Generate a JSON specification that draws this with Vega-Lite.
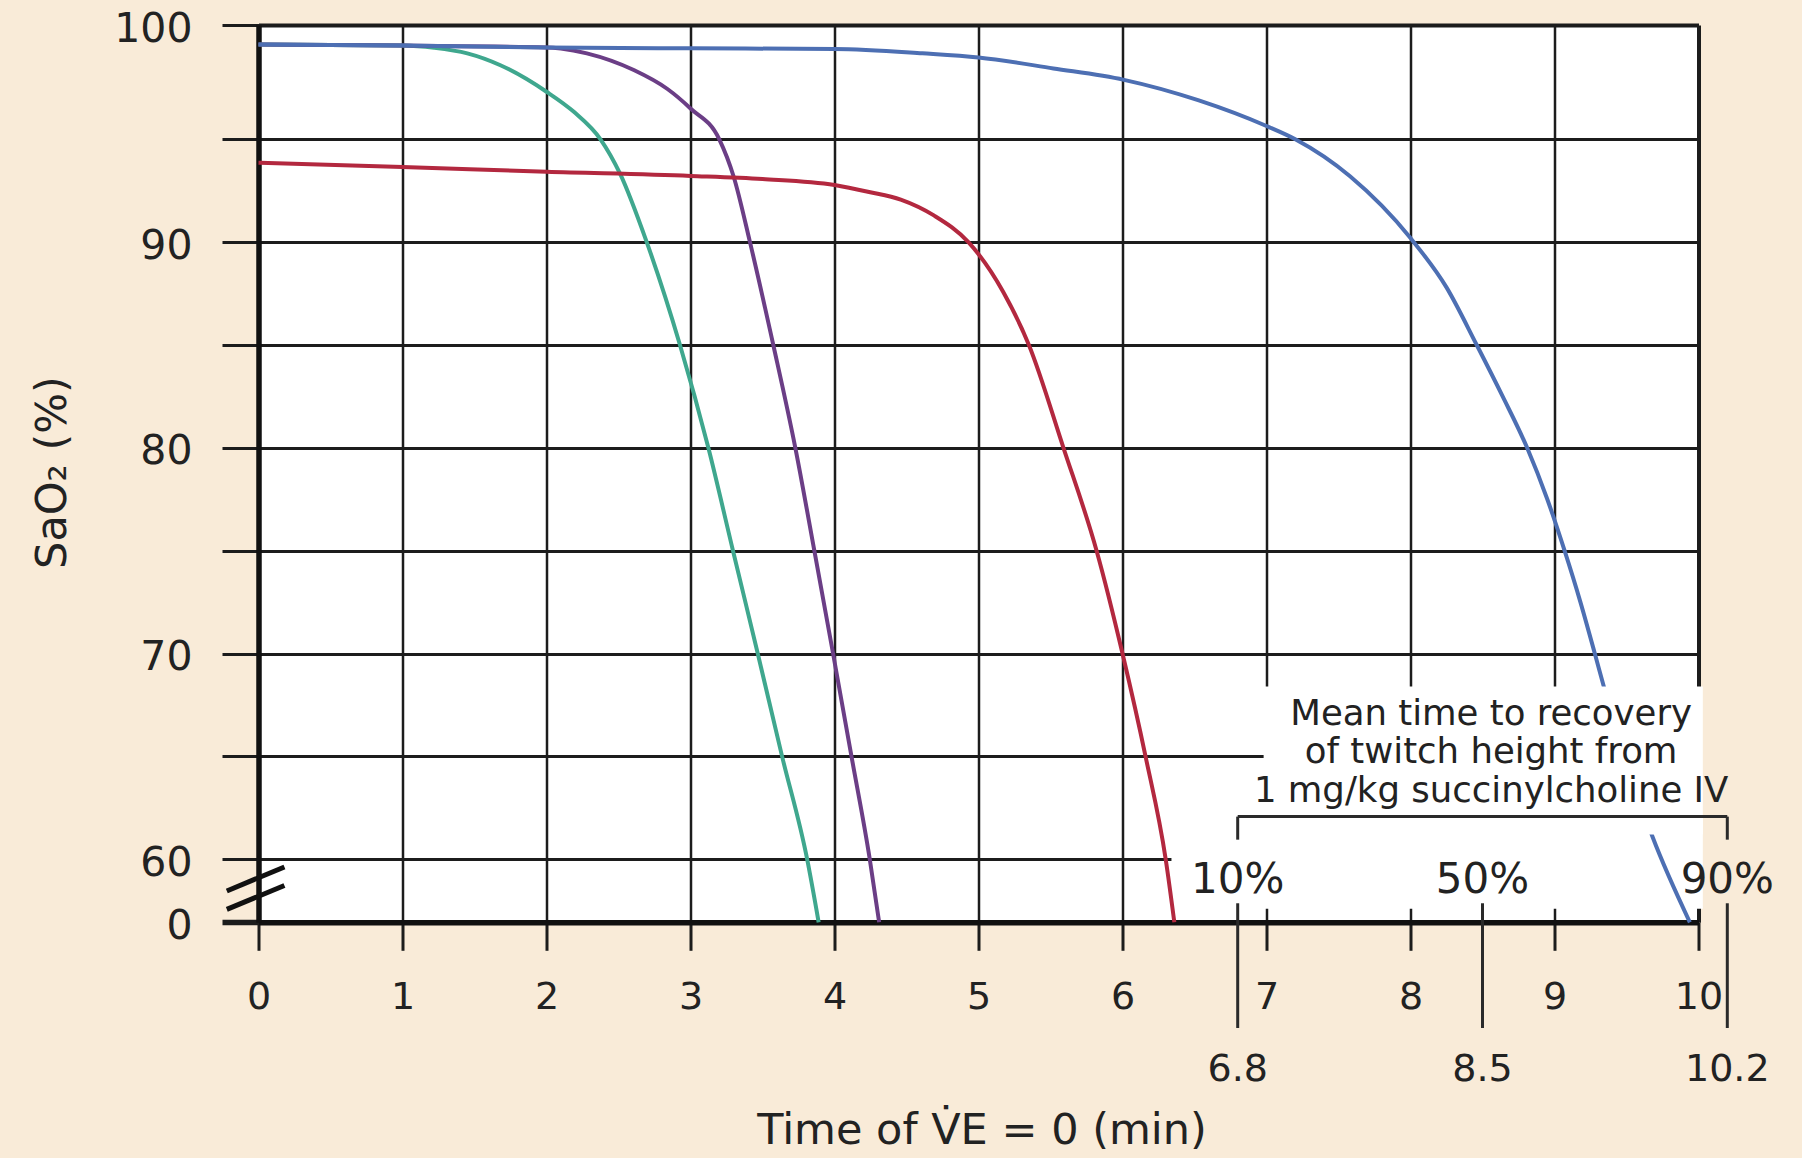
{
  "$schema": "https://vega.github.io/schema/vega-lite/v6.json",
  "width": 1440,
  "height": 897.3,
  "autosize": {"type": "none"},
  "padding": {"left": 258.5, "top": 25, "right": 103.5, "bottom": 235.7},
  "background": "#F9EBD8",
  "config": {"view": {"fill": "white", "stroke": null}, "font": "DejaVu Sans"},
  "datasets": {
    "curves": [
      {"series": "Obese adult", "x": 0, "y": 99.15}, {"series": "Obese adult", "x": 1.0, "y": 99.1}, {"series": "Obese adult", "x": 1.22, "y": 99.0}, {"series": "Obese adult", "x": 1.45, "y": 98.76}, {"series": "Obese adult", "x": 1.68, "y": 98.24}, {"series": "Obese adult", "x": 2.0, "y": 97.08}, {"series": "Obese adult", "x": 2.19, "y": 96.2}, {"series": "Obese adult", "x": 2.375, "y": 95.0}, {"series": "Obese adult", "x": 2.51, "y": 93.34}, {"series": "Obese adult", "x": 2.696, "y": 90.0}, {"series": "Obese adult", "x": 2.927, "y": 85.0}, {"series": "Obese adult", "x": 3.124, "y": 80.0}, {"series": "Obese adult", "x": 3.295, "y": 75.0}, {"series": "Obese adult", "x": 3.467, "y": 70.0}, {"series": "Obese adult", "x": 3.636, "y": 65.0}, {"series": "Obese adult", "x": 3.81, "y": 60.0}, {"series": "Obese adult", "x": 3.89, "y": 0},
      {"series": "10-kg child", "x": 0, "y": 99.15}, {"series": "10-kg child", "x": 1.0, "y": 99.1}, {"series": "10-kg child", "x": 2.0, "y": 99.02}, {"series": "10-kg child", "x": 2.1, "y": 98.97}, {"series": "10-kg child", "x": 2.28, "y": 98.76}, {"series": "10-kg child", "x": 2.606, "y": 98.03}, {"series": "10-kg child", "x": 2.84, "y": 97.2}, {"series": "10-kg child", "x": 3.0, "y": 96.35}, {"series": "10-kg child", "x": 3.2, "y": 95.0}, {"series": "10-kg child", "x": 3.3, "y": 93.18}, {"series": "10-kg child", "x": 3.413, "y": 90.0}, {"series": "10-kg child", "x": 3.575, "y": 85.0}, {"series": "10-kg child", "x": 3.728, "y": 80.0}, {"series": "10-kg child", "x": 3.86, "y": 75.0}, {"series": "10-kg child", "x": 3.99, "y": 70.0}, {"series": "10-kg child", "x": 4.118, "y": 65.0}, {"series": "10-kg child", "x": 4.245, "y": 60.0}, {"series": "10-kg child", "x": 4.31, "y": 0},
      {"series": "Moderately ill adult", "x": 0, "y": 93.86}, {"series": "Moderately ill adult", "x": 1.0, "y": 93.65}, {"series": "Moderately ill adult", "x": 2.0, "y": 93.42}, {"series": "Moderately ill adult", "x": 3.0, "y": 93.22}, {"series": "Moderately ill adult", "x": 3.5, "y": 93.07}, {"series": "Moderately ill adult", "x": 4.0, "y": 92.78}, {"series": "Moderately ill adult", "x": 4.24, "y": 92.44}, {"series": "Moderately ill adult", "x": 4.46, "y": 92.07}, {"series": "Moderately ill adult", "x": 4.69, "y": 91.3}, {"series": "Moderately ill adult", "x": 4.93, "y": 90.0}, {"series": "Moderately ill adult", "x": 5.17, "y": 87.6}, {"series": "Moderately ill adult", "x": 5.35, "y": 85.0}, {"series": "Moderately ill adult", "x": 5.59, "y": 80.0}, {"series": "Moderately ill adult", "x": 5.82, "y": 75.0}, {"series": "Moderately ill adult", "x": 6.0, "y": 70.0}, {"series": "Moderately ill adult", "x": 6.16, "y": 65.0}, {"series": "Moderately ill adult", "x": 6.3, "y": 60.0}, {"series": "Moderately ill adult", "x": 6.36, "y": 0},
      {"series": "Normal adult", "x": 0, "y": 99.15}, {"series": "Normal adult", "x": 1.0, "y": 99.1}, {"series": "Normal adult", "x": 2.0, "y": 99.02}, {"series": "Normal adult", "x": 3.0, "y": 98.98}, {"series": "Normal adult", "x": 4.0, "y": 98.95}, {"series": "Normal adult", "x": 4.61, "y": 98.76}, {"series": "Normal adult", "x": 5.0, "y": 98.58}, {"series": "Normal adult", "x": 5.52, "y": 98.1}, {"series": "Normal adult", "x": 6.01, "y": 97.6}, {"series": "Normal adult", "x": 6.53, "y": 96.7}, {"series": "Normal adult", "x": 7.0, "y": 95.58}, {"series": "Normal adult", "x": 7.2, "y": 95.0}, {"series": "Normal adult", "x": 7.58, "y": 93.2}, {"series": "Normal adult", "x": 8.0, "y": 90.2}, {"series": "Normal adult", "x": 8.25, "y": 87.8}, {"series": "Normal adult", "x": 8.46, "y": 85.0}, {"series": "Normal adult", "x": 8.64, "y": 82.5}, {"series": "Normal adult", "x": 8.81, "y": 80.0}, {"series": "Normal adult", "x": 8.95, "y": 77.5}, {"series": "Normal adult", "x": 9.07, "y": 75.0}, {"series": "Normal adult", "x": 9.18, "y": 72.5}, {"series": "Normal adult", "x": 9.28, "y": 70.0}, {"series": "Normal adult", "x": 9.35, "y": 68.2}, {"series": "Normal adult", "x": 9.68, "y": 61.1}, {"series": "Normal adult", "x": 9.94, "y": 0}
    ],
    "lowerbox": [{"x": 6.34, "x2": 10.03, "y": 13, "y2": 62}],
    "textbox": [{"x": 6.98, "x2": 10.03, "y": 61.2, "y2": 68.4}],
    "bracket": [
      {"x": 6.8, "x2": 10.2, "y": 62.07, "y2": 62.07},
      {"x": 6.8, "x2": 6.8, "y": 62.07, "y2": 60.95},
      {"x": 10.2, "x2": 10.2, "y": 62.07, "y2": 60.95}
    ],
    "markers": [
      {"x": 6.8, "y": 18.1, "y2": -100.5},
      {"x": 8.5, "y": 18.1, "y2": -100.5},
      {"x": 10.2, "y": 18.1, "y2": -100.5}
    ],
    "markerlabels": [
      {"x": 6.8, "y": -100.5, "label": "6.8"},
      {"x": 8.5, "y": -100.5, "label": "8.5"},
      {"x": 10.2, "y": -100.5, "label": "10.2"}
    ],
    "pctlabels": [
      {"x": 6.8, "y": 27.9, "label": "10%"},
      {"x": 8.5, "y": 27.9, "label": "50%"},
      {"x": 10.2, "y": 27.9, "label": "90%"}
    ],
    "annotation": [
      {"x": 8.56, "y": 66.52, "label": "Mean time to recovery"},
      {"x": 8.56, "y": 64.66, "label": "of twitch height from"},
      {"x": 8.56, "y": 62.8, "label": "1 mg/kg succinylcholine IV"}
    ],
    "breakmarks": [
      {"x": -0.22, "y": 29.8, "x2": 0.18, "y2": 52.6},
      {"x": -0.22, "y": 12.3, "x2": 0.18, "y2": 35.0}
    ]
  },
  "encoding": {
    "x": {
      "field": "x", "type": "quantitative",
      "scale": {"domain": [0, 10], "nice": false, "zero": false},
      "axis": {
        "title": "Time of V̇E = 0 (min)",
        "values": [0, 1, 2, 3, 4, 5, 6, 7, 8, 9, 10],
        "format": "d",
        "grid": true,
        "gridColor": "#1c1c1c",
        "gridWidth": {"condition": {"test": "datum.value === 10", "value": 4}, "value": 2.5},
        "gridOpacity": {"condition": {"test": "datum.value === 0", "value": 0}, "value": 1},
        "domainColor": "#111111", "domainWidth": 5.5,
        "tickColor": "#1c1c1c", "tickWidth": 3, "tickSize": 28,
        "labelFont": "DejaVu Sans", "labelFontSize": 38, "labelColor": "#222222", "labelPadding": 28,
        "labelFlush": false, "labelOverlap": false,
        "titleFont": "DejaVu Sans", "titleFontSize": 43, "titleFontWeight": "normal", "titleColor": "#222222",
        "titleX": 723, "titleY": 221, "titleAlign": "center", "titleBaseline": "alphabetic"
      }
    },
    "y": {
      "field": "y", "type": "quantitative",
      "scale": {"type": "linear", "domain": [0, 60, 95, 100], "range": [897.3, 834.2, 114.3, 0], "nice": false, "zero": false},
      "axis": {
        "title": "SaO₂ (%)",
        "values": [0, 60, 65, 70, 75, 80, 85, 90, 95, 100],
        "labelExpr": "datum.value % 10 === 0 ? datum.label : ''",
        "grid": true,
        "gridColor": "#1c1c1c",
        "gridWidth": {"condition": {"test": "datum.value === 100", "value": 4}, "value": 3},
        "gridOpacity": {"condition": {"test": "datum.value === 0", "value": 0}, "value": 1},
        "domainColor": "#111111", "domainWidth": 5.5,
        "tickColor": "#1c1c1c", "tickSize": 36.5,
        "tickWidth": {"condition": {"test": "datum.value === 0", "value": 5.5}, "value": 3},
        "labelFont": "DejaVu Sans", "labelFontSize": 41, "labelColor": "#222222", "labelPadding": 30, "labelOffset": 4,
        "labelOverlap": false, "labelFlush": false,
        "titleFont": "DejaVu Sans", "titleFontSize": 43, "titleFontWeight": "normal", "titleColor": "#222222",
        "titleAngle": 270, "titleX": -193, "titleY": 447, "titleAlign": "center", "titleBaseline": "alphabetic"
      }
    }
  },
  "layer": [
    {
      "data": {"name": "lowerbox"},
      "mark": {"type": "rect", "fill": "white", "strokeWidth": 0},
      "encoding": {"x2": {"field": "x2"}, "y2": {"field": "y2"}}
    },
    {
      "data": {"name": "curves"},
      "transform": [{"filter": "datum.series === 'Obese adult'"}],
      "mark": {"type": "line", "color": "#3fa78e", "strokeWidth": 4, "interpolate": "monotone"}
    },
    {
      "data": {"name": "curves"},
      "transform": [{"filter": "datum.series === '10-kg child'"}],
      "mark": {"type": "line", "color": "#6b3e86", "strokeWidth": 4, "interpolate": "monotone"}
    },
    {
      "data": {"name": "curves"},
      "transform": [{"filter": "datum.series === 'Moderately ill adult'"}],
      "mark": {"type": "line", "color": "#b3283f", "strokeWidth": 4, "interpolate": "monotone"}
    },
    {
      "data": {"name": "curves"},
      "transform": [{"filter": "datum.series === 'Normal adult'"}],
      "mark": {"type": "line", "color": "#4d6fb3", "strokeWidth": 4, "interpolate": "monotone"}
    },
    {
      "data": {"name": "textbox"},
      "mark": {"type": "rect", "fill": "white", "strokeWidth": 0},
      "encoding": {"x2": {"field": "x2"}, "y2": {"field": "y2"}}
    },
    {
      "data": {"name": "bracket"},
      "mark": {"type": "rule", "color": "#2a2a2a", "strokeWidth": 3},
      "encoding": {"x2": {"field": "x2"}, "y2": {"field": "y2"}}
    },
    {
      "data": {"name": "markers"},
      "mark": {"type": "rule", "color": "#2a2a2a", "strokeWidth": 3},
      "encoding": {"y2": {"field": "y2"}}
    },
    {
      "data": {"name": "breakmarks"},
      "mark": {"type": "rule", "color": "#111111", "strokeWidth": 5},
      "encoding": {"x2": {"field": "x2"}, "y2": {"field": "y2"}}
    },
    {
      "data": {"name": "markerlabels"},
      "mark": {"type": "text", "font": "DejaVu Sans", "fontSize": 38, "color": "#222222", "align": "center", "baseline": "alphabetic", "dy": 53},
      "encoding": {"text": {"field": "label"}}
    },
    {
      "data": {"name": "pctlabels"},
      "mark": {"type": "text", "font": "DejaVu Sans", "fontSize": 42, "color": "#222222", "align": "center", "baseline": "alphabetic"},
      "encoding": {"text": {"field": "label"}}
    },
    {
      "data": {"name": "annotation"},
      "mark": {"type": "text", "font": "DejaVu Sans", "fontSize": 35.5, "color": "#222222", "align": "center", "baseline": "alphabetic"},
      "encoding": {"text": {"field": "label"}}
    }
  ]
}
